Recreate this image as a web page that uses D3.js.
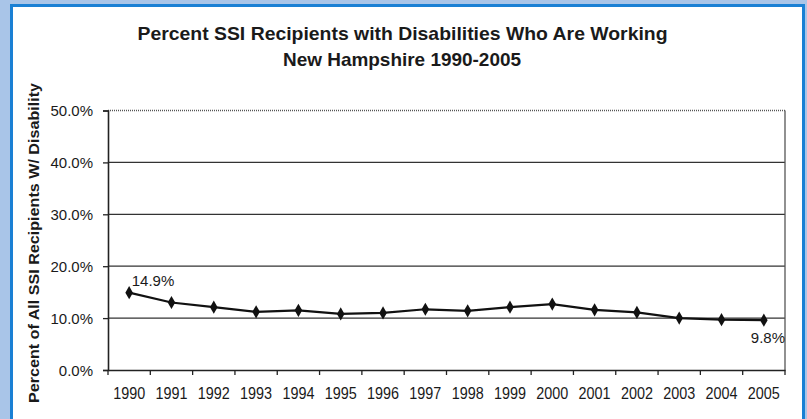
<!DOCTYPE html>
<html><head><meta charset="utf-8">
<script src="https://cdn.jsdelivr.net/npm/d3@7"></script>
<style>body{margin:0;background:#a9c5e8;} svg{display:block;}</style>
</head><body>
<svg id="c" width="807" height="419"></svg>
<script>
const years = ["1990","1991","1992","1993","1994","1995","1996","1997","1998","1999","2000","2001","2002","2003","2004","2005"];
const values = [14.9,13.0,12.1,11.2,11.5,10.8,11.0,11.7,11.4,12.1,12.7,11.6,11.1,10.0,9.7,9.6];
const yTicks = [0,10,20,30,40,50];
const titleLines = ["Percent SSI Recipients with Disabilities Who Are Working","New Hampshire 1990-2005"];
const yTitle = "Percent of All SSI Recipients W/ Disability";
const labeled = {"1990":"14.9%","2005":"9.8%"};

const svg = d3.select("#c");
const font = "Liberation Sans, Arial, Helvetica, sans-serif";
// panel
svg.append("rect").attr("x",0).attr("y",0).attr("width",807).attr("height",419).attr("fill","#a9c5e8");
svg.append("rect").attr("x",11.5).attr("y",5.5).attr("width",792).attr("height",430).attr("fill","#fff").attr("stroke","#1a80d4").attr("stroke-width",3);

const m = {l:108,r:785,t:110.5,b:370};
const x = d3.scaleBand().domain(years).range([m.l,m.r]);
const y = d3.scaleLinear().domain([0,50]).range([m.b,m.t]);

// title
const tl = [530, 238];
svg.append("g").selectAll("text").data(titleLines).join("text")
  .attr("x",(d,i)=>i===0?402.5:402).attr("y",(d,i)=>40+i*26).attr("text-anchor","middle")
  .attr("font-family",font).attr("font-weight","bold").attr("font-size",18.5)
  .attr("fill","#1a1a1a").attr("textLength",(d,i)=>tl[i]).attr("lengthAdjust","spacingAndGlyphs")
  .text(d=>d);

// gridlines
svg.append("g").selectAll("line").data(yTicks.filter(t=>t>0&&t<50)).join("line")
  .attr("x1",m.l).attr("x2",m.r).attr("y1",d=>y(d)).attr("y2",d=>y(d))
  .attr("stroke","#333").attr("stroke-width",1.3);
// top dotted border
svg.append("line").attr("x1",m.l).attr("x2",m.r).attr("y1",y(50)).attr("y2",y(50))
  .attr("stroke","#555").attr("stroke-width",1.3).attr("stroke-dasharray","1,1");
// right border
svg.append("line").attr("x1",m.r).attr("x2",m.r).attr("y1",y(50)).attr("y2",y(0))
  .attr("stroke","#555").attr("stroke-width",1.3);

// y axis
const yAxis = svg.append("g").attr("transform",`translate(${m.l},0)`)
  .call(d3.axisLeft(y).tickValues(yTicks).tickSize(5).tickPadding(8).tickFormat(d=>d.toFixed(1)+"%"));
yAxis.select(".domain").attr("stroke","#222").attr("stroke-width",1.6);
yAxis.selectAll(".tick line").attr("stroke","#222").attr("stroke-width",1.3);
yAxis.selectAll("text").attr("font-family",font).attr("font-size",15).attr("fill","#1a1a1a").attr("x",-15).attr("dy","0.34em");

// x axis
const xAxis = svg.append("g").attr("transform",`translate(0,${m.b})`)
  .call(d3.axisBottom(x).tickSize(0).tickPadding(0));
xAxis.select(".domain").attr("stroke","#222").attr("stroke-width",1.6);
xAxis.selectAll("text").attr("font-family",font).attr("font-size",15.8).attr("fill","#1a1a1a")
  .attr("dy",null).attr("y",29.3).attr("textLength",32).attr("lengthAdjust","spacingAndGlyphs");
// boundary ticks
const bounds = years.map(d=>x(d)).concat([x(years[years.length-1])+x.bandwidth()]);
svg.append("g").selectAll("line").data(bounds).join("line")
  .attr("x1",d=>d).attr("x2",d=>d).attr("y1",m.b).attr("y2",m.b+5)
  .attr("stroke","#222").attr("stroke-width",1.3);

// y title
svg.append("text").attr("transform",`translate(39,243) rotate(-90)`).attr("text-anchor","middle")
  .attr("font-family",font).attr("font-weight","bold").attr("font-size",15.5).attr("fill","#1a1a1a")
  .attr("textLength",320).attr("lengthAdjust","spacingAndGlyphs")
  .text(yTitle);

// line
const cx = d=>x(d)+x.bandwidth()/2;
svg.append("path").datum(years.map((d,i)=>[cx(d),y(values[i])]))
  .attr("d",d3.line()).attr("fill","none").attr("stroke","#111").attr("stroke-width",2.2);
svg.append("g").selectAll("path").data(years).join("path")
  .attr("transform",(d,i)=>`translate(${cx(d)},${y(values[i])})`)
  .attr("d",d3.symbol(d3.symbolDiamond,50)).attr("fill","#111");

// data labels
svg.append("text").attr("x",153).attr("y",y(values[0])-7).attr("text-anchor","middle")
  .attr("font-family",font).attr("font-size",15).attr("fill","#1a1a1a").text(labeled["1990"]);
svg.append("text").attr("x",m.r).attr("y",y(values[15])+23).attr("text-anchor","end")
  .attr("font-family",font).attr("font-size",15).attr("fill","#1a1a1a").text(labeled["2005"]);
</script>
</body></html>
